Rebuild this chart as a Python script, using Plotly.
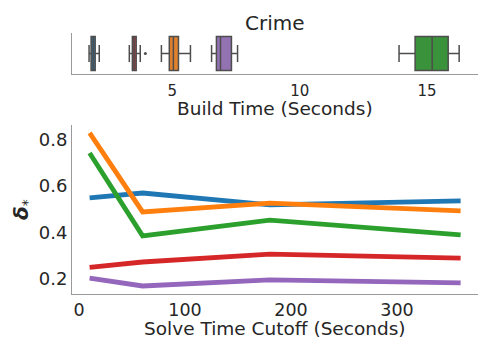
import plotly.graph_objects as go

# ---- data ----
cutoffs = [10, 60, 180, 360]
series_colors = ["#1f77b4", "#ff7f0e", "#2ca02c", "#d62728", "#9467bd"]
delta_blue = [0.548, 0.569, 0.518, 0.535]
delta_orange = [0.827, 0.488, 0.526, 0.492]
delta_green = [0.741, 0.385, 0.453, 0.389]
delta_red = [0.250, 0.273, 0.307, 0.290]
delta_purple = [0.204, 0.170, 0.196, 0.183]

box_colors = ["#3274a1", "#e1812c", "#3a923a", "#c03d3e", "#9372b2"]
box_low = [1.73, 4.57, 13.90, 3.31, 6.54]
box_q1 = [1.81, 4.88, 14.53, 3.43, 6.73]
box_med = [1.89, 5.04, 15.20, 3.50, 6.89]
box_q3 = [1.97, 5.24, 15.83, 3.58, 7.32]
box_high = [2.13, 5.71, 16.26, 3.74, 7.56]
outlier_x = [3.94]

FONT = "DejaVu Sans"
TXT = "#262626"
W, H = 483, 340
def px_x(p):
    return p / W
def px_y(p):
    return 1 - p / H

fig = go.Figure()

# top box plots
for i in range(5):
    fig.add_trace(go.Box(
        y=[0], q1=[box_q1[i]], median=[box_med[i]], q3=[box_q3[i]],
        lowerfence=[box_low[i]], upperfence=[box_high[i]],
        orientation="h", fillcolor=box_colors[i],
        line=dict(color="#4d4d4d", width=1.5), width=0.83,
        whiskerwidth=0.5, boxpoints=False, showlegend=False,
        xaxis="x2", yaxis="y2"))
fig.add_trace(go.Scatter(x=outlier_x, y=[0], mode="markers",
                         marker=dict(color="#4d4d4d", size=3),
                         showlegend=False, xaxis="x2", yaxis="y2"))

# bottom lines
for vals, c in zip([delta_blue, delta_orange, delta_green, delta_red, delta_purple], series_colors):
    fig.add_trace(go.Scatter(x=cutoffs, y=vals, mode="lines",
                             line=dict(color=c, width=4.8), showlegend=False))

axis_line = dict(showline=True, linecolor="#9a9a9a", linewidth=1, showgrid=False,
                 zeroline=False, ticks="")
cx = (px_x(72) + px_x(478)) / 2
fig.update_layout(
    width=W, height=H, margin=dict(l=0, r=0, t=0, b=0),
    template="none", plot_bgcolor="white", paper_bgcolor="white",
    font=dict(family=FONT, color=TXT),
    boxmode="overlay",
    xaxis=dict(domain=[px_x(72), px_x(478)], range=[-6.6, 376.4], anchor="y",
               tickvals=[0, 100, 200, 300], tickfont=dict(size=17.5),
               **axis_line),
    yaxis=dict(domain=[px_y(294), px_y(125)], range=[0.1356, 0.861], anchor="x",
               tickvals=[0.2, 0.4, 0.6, 0.8], ticktext=["0.2", "0.4", "0.6", "0.8"],
               tickfont=dict(size=18),
               **axis_line),
    xaxis2=dict(domain=[px_x(72), px_x(478)], range=[1.06, 17.0], anchor="y2",
                tickvals=[5, 10, 15], tickfont=dict(size=15), ticklabelstandoff=3,
                **axis_line),
    yaxis2=dict(domain=[px_y(74), px_y(33)], range=[-0.5, 0.5], anchor="x2",
                showticklabels=False, **axis_line),
    annotations=[
        dict(text="Crime", x=cx, y=px_y(23), xref="paper", yref="paper",
             xanchor="center", yanchor="middle", showarrow=False,
             font=dict(size=20, family=FONT, color=TXT)),
        dict(text="Build Time (Seconds)", x=cx, y=px_y(108), xref="paper", yref="paper",
             xanchor="center", yanchor="middle", showarrow=False,
             font=dict(size=18.5, family=FONT, color=TXT)),
        dict(text="Solve Time Cutoff (Seconds)", x=cx, y=px_y(328.5), xref="paper", yref="paper",
             xanchor="center", yanchor="middle", showarrow=False,
             font=dict(size=18.5, family=FONT, color=TXT)),
        dict(text="<b><i>δ</i></b><sub>*</sub>", x=px_x(22), y=px_y(210), xref="paper", yref="paper",
             xanchor="center", yanchor="middle", showarrow=False, textangle=-90,
             font=dict(size=20, family=FONT, color=TXT)),
    ],
)

fig.write_html("out.html")
